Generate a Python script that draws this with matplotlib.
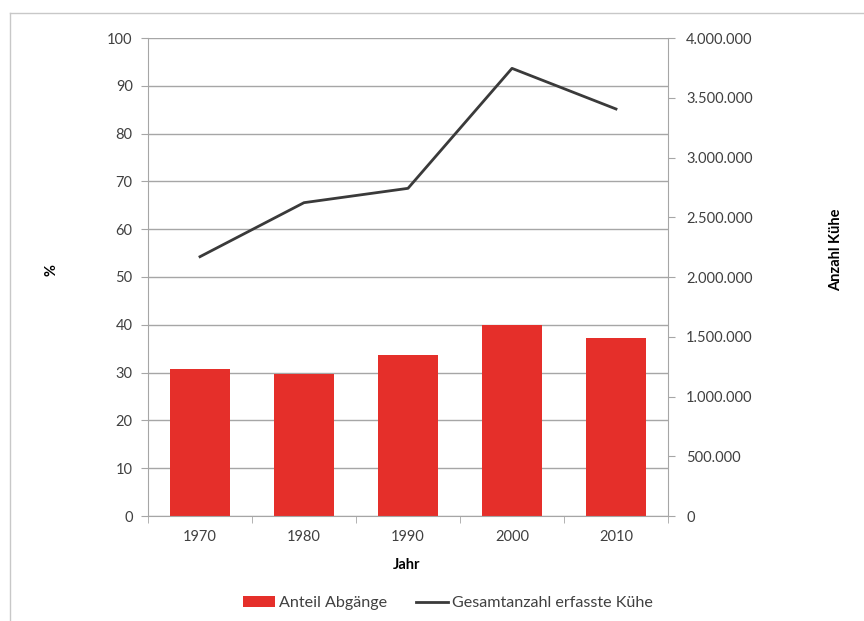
import matplotlib
matplotlib.use("Agg")
import matplotlib.pyplot as plt
from matplotlib.lines import Line2D
from matplotlib.patches import Patch
from matplotlib.ticker import FuncFormatter, MultipleLocator

plt.rcParams['font.family'] = ['Lato', 'DejaVu Sans']

years = ["1970", "1980", "1990", "2000", "2010"]
anteil_abgaenge = [30.8, 29.7, 33.7, 39.9, 37.2]
gesamt_kuehe = [2170000, 2622000, 2742000, 3746000, 3406000]

red = "#e52f2a"
linec = "#3a3a3a"
gridc = "#a6a6a6"
textc = "#404040"

fig = plt.figure(figsize=(8.64, 6.21), dpi=100)
ax = fig.add_axes([148/864, 1-516/621, 520/864, 478/621])
ax2 = ax.twinx()

x = list(range(len(years)))
ax.bar(x, anteil_abgaenge, width=0.57, color=red, zorder=2)
ax.set_xlim(-0.5, len(years)-0.5)
ax.set_ylim(0, 100)
ax.yaxis.set_major_locator(MultipleLocator(10))
ax.grid(axis='y', color=gridc, linewidth=1.0, zorder=0)
ax.set_axisbelow(True)
ax.set_xticks(x)
ax.set_xticklabels(years)
ax.set_xticks([i + 0.5 for i in range(-1, len(years))], minor=True)
ax.tick_params(axis='x', which='major', length=0, pad=10, labelsize=10.5, colors=textc)
ax.tick_params(axis='x', which='minor', length=5, color=gridc, direction='out')
ax.tick_params(axis='y', length=5, color=gridc, labelsize=10.5, labelcolor=textc, pad=6)

ax2.plot(x, gesamt_kuehe, color=linec, linewidth=2.0, zorder=3)
ax2.set_ylim(0, 4000000)
ax2.yaxis.set_major_locator(MultipleLocator(500000))
ax2.yaxis.set_major_formatter(FuncFormatter(lambda v, p: f"{int(v):,}".replace(",", ".")))
ax2.tick_params(axis='y', length=5, color=gridc, labelsize=10.5, labelcolor=textc, pad=8)

for a in (ax, ax2):
    for s in a.spines.values():
        s.set_visible(False)
ax.spines['left'].set_visible(True)
ax.spines['bottom'].set_visible(True)
ax2.spines['right'].set_visible(True)
ax.spines['left'].set_color(gridc)
ax.spines['bottom'].set_color(gridc)
ax2.spines['right'].set_color(gridc)

fig.text(52/864, 1-270/621, "%", rotation=90, ha='center', va='center',
         fontsize=10.5, fontweight='bold', color='black')
fig.text(836/864, 1-250/621, "Anzahl Kühe", rotation=90, ha='center', va='center',
         fontsize=10.5, fontweight='bold', color='black')
fig.text(407/864, 1-565/621, "Jahr", ha='center', va='center',
         fontsize=10.5, fontweight='bold', color='black')

handles = [Patch(facecolor=red, edgecolor='none'),
           Line2D([0], [0], color=linec, linewidth=2.0)]
fig.legend(handles, ["Anteil Abgänge", "Gesamtanzahl erfasste Kühe"],
           loc='center', bbox_to_anchor=(448/864, 1-603/621), ncol=2,
           frameon=False, fontsize=11.6, handlelength=2.0, handletextpad=0.25,
           columnspacing=1.8, labelcolor=textc)

frame_c = "#c8c8c8"
fig.add_artist(Line2D([10/864, 10/864], [0, 1-13/621], color=frame_c, linewidth=1.0))
fig.add_artist(Line2D([10/864, 1], [1-13/621, 1-13/621], color=frame_c, linewidth=1.0))

fig.savefig("out.png", dpi=100)
